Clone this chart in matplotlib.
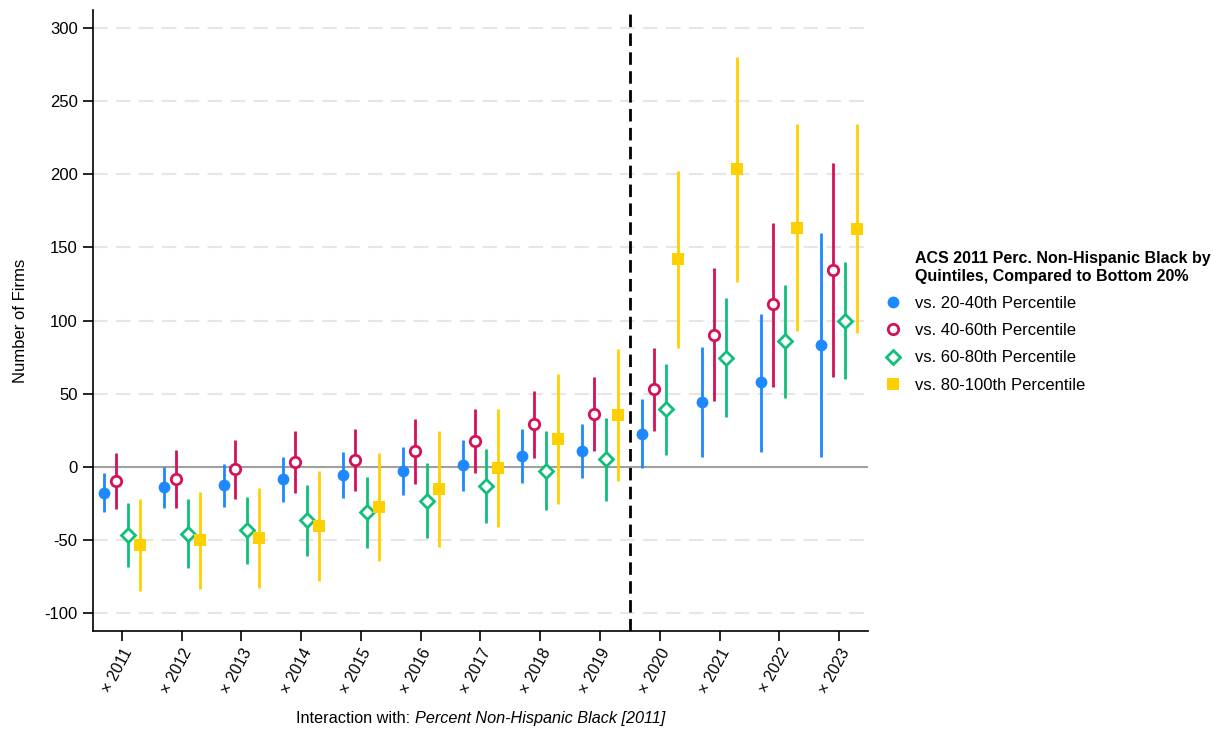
import matplotlib
matplotlib.use("Agg")
import matplotlib.pyplot as plt
from matplotlib.lines import Line2D
import numpy as np

plt.rcParams['font.family'] = ['Liberation Sans', 'DejaVu Sans']
plt.rcParams['axes.unicode_minus'] = False

years = [2011, 2012, 2013, 2014, 2015, 2016, 2017, 2018, 2019, 2020, 2021, 2022, 2023]
tick_labels = ['× ' + str(y) for y in years]

# point estimates and confidence intervals
q2_est = [-17.6, -13.9, -12.3, -8.4, -5.7, -2.5, 1.4, 7.7, 11.2, 22.8, 44.2, 57.9, 83.6]
q2_lo = [-31, -28, -27, -23.9, -21.4, -18.9, -16.2, -10.7, -7.7, -0.9, 6.6, 10, 7]
q2_hi = [-4.3, 0.2, 2, 6.6, 10.3, 13.9, 18.5, 26, 29.4, 46.5, 82, 104.6, 160]

q3_est = [-9.6, -8.4, -1.6, 3.4, 5, 10.7, 18, 29.2, 36.2, 53.1, 90.4, 111.2, 134.7]
q3_lo = [-28.5, -28.3, -22.1, -18, -16.4, -11.6, -3.9, 6.4, 10.7, 24.8, 45.1, 54.9, 61.7]
q3_hi = [9.3, 11.4, 18.2, 24.4, 26, 32.6, 39.4, 52, 61.3, 81.1, 135.6, 167, 207.6]

q4_est = [-46.5, -45.6, -43.3, -36.5, -30.5, -23, -12.8, -2.5, 5.2, 39.4, 74.7, 85.9, 100]
q4_lo = [-68.4, -69, -66.1, -60.6, -55.1, -48.5, -38.3, -29.4, -23, 8.2, 34.2, 47.4, 60.4]
q4_hi = [-24.8, -22.1, -20.3, -12.5, -6.6, 2.5, 12.3, 24.6, 33.3, 70.4, 115.3, 124.4, 139.9]

q5_est = [-53.1, -50.1, -48.5, -40.1, -27.3, -15.3, -0.9, 19.1, 35.5, 142.2, 203.5, 163.6, 162.9]
q5_lo = [-84.5, -83.4, -82.9, -77.7, -64, -54.9, -41.2, -25.1, -9.3, 81.1, 126.4, 93.2, 91.4]
q5_hi = [-21.9, -17.3, -14.1, -2.7, 9.6, 24.4, 39.4, 63.6, 80.7, 202.5, 280, 234, 234.5]

series = [
    ('vs. 20-40th Percentile', q2_est, q2_lo, q2_hi, '#1e88ff', 'o', True, 8.5),
    ('vs. 40-60th Percentile', q3_est, q3_lo, q3_hi, '#d41159', 'o', False, 7.5),
    ('vs. 60-80th Percentile', q4_est, q4_lo, q4_hi, '#0fbf7a', 'D', False, 7),
    ('vs. 80-100th Percentile', q5_est, q5_lo, q5_hi, '#ffd000', 's', True, 8),
]
offsets = [-0.3, -0.1, 0.1, 0.3]

fig = plt.figure(figsize=(12.2, 7.32), dpi=100)
ax = fig.add_axes([0.0762, 0.138, 0.6353, 0.848])

for yv in [-100, -50, 50, 100, 150, 200, 250, 300]:
    ax.axhline(yv, color='#e6e6e6', lw=1.5, ls=(0, (7, 4)), zorder=0)
ax.axhline(0, color='#a0a0a0', lw=1.5, zorder=1)
ax.axvline(2019.5, color='black', lw=2, ls=(0, (4.5, 2.3)), zorder=2)

handles = []
for (name, est, lo, hi, col, mk, filled, ms), off in zip(series, offsets):
    x = np.array(years) + off
    ax.vlines(x, lo, hi, color=col, lw=2, zorder=3)
    face = col if filled else 'white'
    mew = 0 if filled else 2
    ax.plot(x, est, ls='none', marker=mk, ms=ms, mfc=face, mec=col, mew=mew, zorder=4)
    handles.append(Line2D([], [], ls='none', marker=mk, ms=ms, mfc=face, mec=col,
                          mew=mew, label=name))

ax.set_xlim(2010.515, 2023.485)
ax.set_ylim(-112, 312)
ax.set_yticks([-100, -50, 0, 50, 100, 150, 200, 250, 300])
ax.set_xticks(years)
ax.set_xticklabels(tick_labels, rotation=62, ha='right', rotation_mode='anchor', fontsize=11.5)
ax.tick_params(axis='y', labelsize=12, length=7, width=1.2, pad=4)
ax.tick_params(axis='x', length=7, width=1.2)
for s in ['top', 'right']:
    ax.spines[s].set_visible(False)
for s in ['left', 'bottom']:
    ax.spines[s].set_linewidth(1.2)

ax.set_ylabel('Number of Firms', fontsize=12)
ax.yaxis.set_label_coords(-0.084, 0.5)

# x axis title: regular prefix + italic variable name, centred under the axes
t1 = fig.text(0, 0.008, 'Interaction with: ', ha='left', va='bottom', fontsize=11.7)
t2 = fig.text(0, 0.008, 'Percent Non-Hispanic Black [2011]', ha='left', va='bottom',
              fontsize=11.7, style='italic')
fig.canvas.draw()
r = fig.canvas.get_renderer()
w1 = t1.get_window_extent(r).width / fig.bbox.width
w2 = t2.get_window_extent(r).width / fig.bbox.width
xc = 0.0762 + 0.6353 / 2
t1.set_x(xc - (w1 + w2) / 2)
t2.set_x(xc - (w1 + w2) / 2 + w1)

fig.text(915 / 1220, 1 - 251 / 732,
         'ACS 2011 Perc. Non-Hispanic Black by\nQuintiles, Compared to Bottom 20%',
         ha='left', va='top', fontsize=11.5, fontweight='bold', linespacing=1.28)

fig.legend(handles=handles, loc='upper left', bbox_to_anchor=(0.7252, 0.596),
           frameon=False, fontsize=12, handlelength=1.0, handletextpad=0.8,
           labelspacing=0.74, borderpad=0, borderaxespad=0)

fig.savefig('out.png', dpi=100)
